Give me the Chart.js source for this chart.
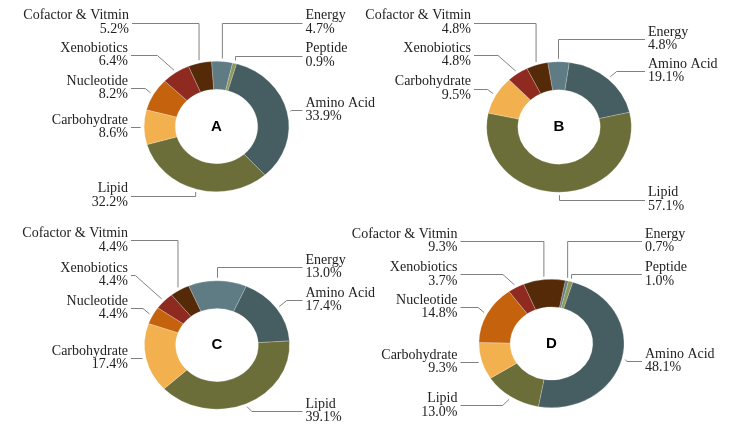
<!DOCTYPE html>
<html>
<head>
<meta charset="utf-8">
<script src="https://cdn.jsdelivr.net/npm/chart.js@4.4.0/dist/chart.umd.min.js"></script>
<style>
  html, body { margin: 0; padding: 0; background: #fff; }
  #wrap { position: relative; width: 729px; height: 438px; overflow: hidden; }
  #wrap canvas { position: absolute; left: 0; top: 0; }
</style>
</head>
<body>
<div id="wrap">
  <canvas id="chartA" width="729" height="438"></canvas>
  <canvas id="chartB" width="729" height="438"></canvas>
  <canvas id="chartC" width="729" height="438"></canvas>
  <canvas id="chartD" width="729" height="438"></canvas>
</div>
<script>
// categories in drawing order (clockwise from the start angle)
const categories = ['Energy', 'Peptide', 'Amino Acid', 'Lipid', 'Carbohydrate', 'Nucleotide', 'Xenobiotics', 'Cofactor & Vitmin'];

// percentages per panel (0 = not present)
const valuesA = [4.7, 0.9, 33.9, 32.2, 8.6, 8.2, 6.4, 5.2];
const valuesB = [4.8, 0, 19.1, 57.1, 9.5, 0, 4.8, 4.8];
const valuesC = [13.0, 0, 17.4, 39.1, 17.4, 4.4, 4.4, 4.4];
const valuesD = [0.7, 1.0, 48.1, 13.0, 9.3, 14.8, 3.7, 9.3];

const panelNames = ['A', 'B', 'C', 'D'];

const COLORS = ['#5f7c84', '#8d985a', '#465e62', '#6c6e39', '#f2b04e', '#c4620e', '#8e2a1f', '#552a08'];
const TEXT = '#222';
const LEADER = '#808080';
const LABEL_FONT = "14px 'Liberation Serif', 'Times New Roman', serif";
const LETTER_FONT = "bold 15px 'Liberation Sans', Arial, sans-serif";

// doughnut geometry of each panel (centre, radius, horizontal stretch, start angle)
const geom = {
    A: { cx: 216.5, cy: 126.5, r: 65.5, sx: 1.11, rot: -4 },
    B: { cx: 559,   cy: 127,   r: 65.5, sx: 1.11, rot: -9 },
    C: { cx: 217,   cy: 345,   r: 64.5, sx: 1.13, rot: -23 },
    D: { cx: 551.5, cy: 343.5, r: 64.5, sx: 1.13, rot: 11 }
};

// label placement: text edge x, middle y, alignment, leader style (v = vertical end, d = angled)
const labelLayout = {
    A: {
        'Cofactor & Vitmin': [129, 22.5, 'right', 'v'],
        'Xenobiotics':       [128, 55,   'right', 'd'],
        'Nucleotide':        [128, 88,   'right', 'd'],
        'Carbohydrate':      [128, 127,  'right', 'd'],
        'Lipid':             [128, 195.5,'right', 'v'],
        'Energy':            [305.5, 22.5, 'left', 'v'],
        'Peptide':           [305.5, 55.5, 'left', 'v'],
        'Amino Acid':        [305.5, 110,  'left', 'd']
    },
    B: {
        'Cofactor & Vitmin': [471, 22.5, 'right', 'v'],
        'Xenobiotics':       [471, 55,   'right', 'd'],
        'Carbohydrate':      [471, 88.5, 'right', 'd'],
        'Energy':            [648, 38.7, 'left', 'v'],
        'Amino Acid':        [648, 71,   'left', 'd'],
        'Lipid':             [648, 199.5,'left', 'v']
    },
    C: {
        'Cofactor & Vitmin': [128, 240.3, 'right', 'v'],
        'Xenobiotics':       [128, 275,   'right', 'd'],
        'Nucleotide':        [128, 308,   'right', 'd'],
        'Carbohydrate':      [128, 358,   'right', 'd'],
        'Energy':            [305.5, 267,   'left', 'v'],
        'Amino Acid':        [305.5, 299.7, 'left', 'd'],
        'Lipid':             [305.5, 411,   'left', 'd']
    },
    D: {
        'Cofactor & Vitmin': [457.5, 241,   'right', 'v'],
        'Xenobiotics':       [457.5, 274.3, 'right', 'd'],
        'Nucleotide':        [457.5, 307,   'right', 'd'],
        'Carbohydrate':      [457.5, 362,   'right', 'd'],
        'Lipid':             [457.5, 405.2, 'right', 'd'],
        'Energy':            [645, 241,   'left', 'v'],
        'Peptide':           [645, 274.3, 'left', 'v'],
        'Amino Acid':        [645, 361,   'left', 'd']
    }
};

// stretches the ring horizontally and draws the callout labels
const calloutPlugin = {
    id: 'callout',
    beforeDatasetsDraw(chart, args, opts) {
        const el = chart.getDatasetMeta(0).data[0];
        const ctx = chart.ctx;
        ctx.save();
        ctx.translate(el.x, el.y);
        ctx.scale(opts.sx, 1);
        ctx.translate(-el.x, -el.y);
    },
    afterDatasetsDraw(chart, args, opts) {
        const ctx = chart.ctx;
        ctx.restore();
        const meta = chart.getDatasetMeta(0);
        const values = chart.data.datasets[0].data;
        let cx = 0, cy = 0;

        meta.data.forEach((arc, i) => {
            const p = arc.getProps(['x', 'y', 'startAngle', 'endAngle', 'outerRadius'], true);
            cx = p.x; cy = p.y;
            if (!values[i]) return;
            const L = opts.layout[chart.data.labels[i]];
            if (!L) return;
            const [lx, ly, align, leg] = L;
            const mid = (p.startAngle + p.endAngle) / 2;
            const R = p.outerRadius + 3;
            const px = p.x + Math.cos(mid) * R * opts.sx;
            const py = p.y + Math.sin(mid) * R;
            const side = align === 'right' ? 1 : -1;
            const ax = lx + side * 3;
            let kx = leg === 'v' ? px : px - side * Math.abs(py - ly) * 1.1;
            if (side === 1 && kx < ax) kx = ax;
            if (side === -1 && kx > ax) kx = ax;
            const yy = Math.round(ly) + 0.5;

            ctx.save();
            ctx.strokeStyle = LEADER;
            ctx.lineWidth = 1;
            ctx.beginPath();
            ctx.moveTo(ax, yy);
            ctx.lineTo(kx, yy);
            ctx.lineTo(px, py);
            ctx.stroke();

            ctx.fillStyle = TEXT;
            ctx.font = LABEL_FONT;
            ctx.textAlign = align;
            ctx.textBaseline = 'middle';
            ctx.fillText(chart.data.labels[i], lx, ly - 6.7);
            ctx.fillText(values[i].toFixed(1) + '%', lx, ly + 6.7);
            ctx.restore();
        });

        ctx.save();
        ctx.fillStyle = '#000';
        ctx.font = LETTER_FONT;
        ctx.textAlign = 'center';
        ctx.textBaseline = 'middle';
        ctx.fillText(opts.letter, cx, cy);
        ctx.restore();
    }
};

function buildPanel(name, values) {
    const g = geom[name];
    const W = 729, H = 438;
    return new Chart(document.getElementById('chart' + name), {
        type: 'doughnut',
        data: {
            labels: categories,
            datasets: [{
                data: values,
                backgroundColor: COLORS,
                borderColor: 'rgba(255,255,255,0.35)',
                borderWidth: 0.6,
                hoverOffset: 0,
                clip: false
            }]
        },
        options: {
            responsive: false,
            animation: false,
            events: [],
            cutout: '57%',
            rotation: g.rot,
            layout: {
                padding: {
                    left: g.cx - g.r,
                    right: W - g.cx - g.r,
                    top: g.cy - g.r,
                    bottom: H - g.cy - g.r
                }
            },
            plugins: {
                legend: { display: false },
                tooltip: { enabled: false },
                callout: { sx: g.sx, layout: labelLayout[name], letter: name }
            }
        },
        plugins: [calloutPlugin]
    });
}

buildPanel('A', valuesA);
buildPanel('B', valuesB);
buildPanel('C', valuesC);
buildPanel('D', valuesD);
</script>
</body>
</html>
